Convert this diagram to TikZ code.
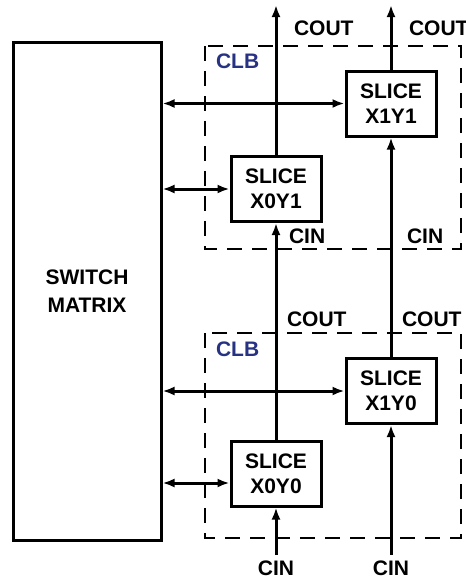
\documentclass[tikz,border=0pt]{standalone}
\usepackage{fontspec}
\setmainfont{Liberation Sans}
\usetikzlibrary{arrows.meta}
\definecolor{clbblue}{RGB}{40,50,130}

\begin{document}
\begin{tikzpicture}[
    x=0.5pt, y=-0.5pt,
    every node/.style={font=\fontsize{10.5}{12.5}\selectfont\bfseries, align=center},
    slice/.style={rectangle, draw, line width=1.5pt, minimum width=45pt, minimum height=32.5pt, inner sep=0pt},
    clb/.style={draw, dash pattern=on 7.5pt off 5pt, line width=1.4pt},
    wire/.style={line width=1.5pt, -{Latex[length=6pt,width=4.5pt]}},
    bus/.style={line width=1.5pt, {Latex[length=6pt,width=4.5pt]}-{Latex[length=6pt,width=4.5pt]}}
]
\useasboundingbox (0,0) rectangle (466,579);
% CLB frames
\draw[clb] (205,46) rectangle (461,249);
\draw[clb] (205,333) rectangle (461,538);
\node[text=clbblue, anchor=west] (clbtop) at (209,61) {CLB};
\node[text=clbblue, anchor=west] (clbbot) at (209,349) {CLB};

% blocks
\node[draw, line width=1.5pt, minimum width=74pt, minimum height=249pt] (sw) at (87,291) {SWITCH\\[1.5pt]MATRIX};
\node[slice] (x1y1) at (391,103.5) {SLICE\\X1Y1};
\node[slice] (x0y1) at (276,189) {SLICE\\X0Y1};
\node[slice] (x1y0) at (391,391) {SLICE\\X1Y0};
\node[slice] (x0y0) at (276,473.5) {SLICE\\X0Y0};

% carry chain ends
\coordinate (c0out) at (276,5);
\coordinate (c1out) at (391,5);
\coordinate (c0in) at (276,555);
\coordinate (c1in) at (391,555);
\coordinate (x0y0port) at ([yshift=-4.75pt]x0y0.west);

% carry chain
\draw[wire] (x0y1.north) -- (c0out);
\draw[wire] (x1y1.north) -- (c1out);
\draw[wire] (x0y0.north) -- (x0y1.south);
\draw[wire] (x1y0.north) -- (x1y1.south);
\draw[wire] (c0in) -- (x0y0.south);
\draw[wire] (c1in) -- (x1y0.south);

% switch matrix links
\draw[bus] (sw.east |- x1y1.west) -- (x1y1.west);
\draw[bus] (sw.east |- x0y1.west) -- (x0y1.west);
\draw[bus] (sw.east |- x1y0.west) -- (x1y0.west);
\draw[bus] (sw.east |- x0y0port) -- (x0y0port);

% labels
\node[anchor=west] (cout0t) at (287,28) {COUT};
\node[anchor=west] (cout1t) at (402,28) {COUT};
\node[anchor=west] (cin0t) at (282,236) {CIN};
\node[anchor=west] (cin1t) at (400,236) {CIN};
\node[anchor=west] (cout0b) at (280,319) {COUT};
\node[anchor=west] (cout1b) at (395,319) {COUT};
\node (cin0b) at (276,568) {CIN};
\node (cin1b) at (391,568) {CIN};
\end{tikzpicture}
\end{document}
